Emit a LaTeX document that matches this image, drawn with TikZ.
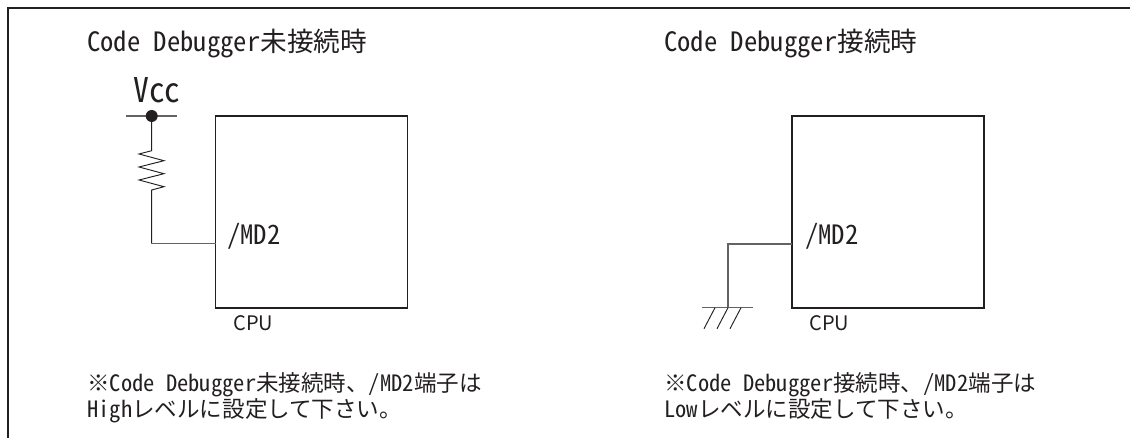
\documentclass[tikz,border=0pt]{standalone}
\usepackage{fontspec}
\setmainfont{Noto Sans CJK JP}[RawFeature={+hwid}]
\newfontfamily\plainjp{Noto Sans CJK JP}
\definecolor{ink}{HTML}{231F20}
\tikzset{
  x=0.75pt,y=-0.75pt,
  frameline/.style={draw=ink,line width=1.3pt},
  boxline/.style={draw=ink,line width=1.4pt,outer sep=0pt,inner sep=0pt,anchor=north west,minimum width=144pt,minimum height=144pt},
  wire/.style={draw=ink!70,line width=0.9pt},
  thinwire/.style={draw=ink,line width=0.7pt},
  title/.style={anchor=base west,inner sep=0pt,font=\fontsize{20pt}{24pt}\selectfont,text=ink},
  pinlabel/.style={anchor=base west,inner sep=0pt,font=\fontsize{20pt}{24pt}\selectfont,text=ink},
  cpulabel/.style={anchor=base west,inner sep=0pt,font=\fontsize{15pt}{18pt}\plainjp\selectfont,text=ink},
  note/.style={anchor=base west,inner sep=0pt,font=\fontsize{16.9pt}{20pt}\selectfont,text=ink},
  vcclabel/.style={anchor=base west,inner sep=0pt,font=\fontsize{25.5pt}{30pt}\selectfont,text=ink},
}
\begin{document}
\begin{tikzpicture}
\useasboundingbox (0,0) rectangle (1130,438);
\coordinate (frameBL) at (8,438);
\coordinate (frameTL) at (8,8);
\coordinate (frameTR) at (1130,8);
\draw[frameline] (frameBL) -- (frameTL) -- (frameTR);
% left circuit
\node[title] (titleL) at (87,52) {Code Debugger未接続時};
\node[vcclabel] (vcc) at (133,103) {\scalebox{0.93}[1]{Vcc}};
\coordinate (vccA) at (126,116);
\coordinate (vccB) at (177,116);
\draw[wire] (vccA) -- (vccB);
\coordinate (dot) at (151.7,116);
\fill[ink] (dot) circle[radius=6];
\node[boxline,draw] (cpuL) at (215.5,116) {};
\coordinate (pinL) at (215.5,243.7);
\coordinate (cornerL) at (151.7,243.7);
\draw[thinwire] (dot) -- (151.7,150.7) -- (139,154) -- (164,160.7) -- (139,167) -- (164,173.7) -- (139,180) -- (164,186.7) -- (151.7,190) -- (cornerL);
\draw[wire] (cornerL) -- (pinL);
\node[pinlabel] (mdL) at (227,244) {/MD2};
\node[cpulabel] (cpuTextL) at (233,330) {CPU};
\node[note] (noteL1) at (87,391) {※Code Debugger未接続時、/MD2端子は};
\node[note] (noteL2) at (87,417) {Highレベルに設定して下さい。};
% right circuit
\node[title] (titleR) at (664,52) {Code Debugger接続時};
\node[boxline,draw] (cpuR) at (792,116) {};
\coordinate (pinR) at (792,244);
\coordinate (cornerR) at (728,244);
\coordinate (gnd) at (728,307.7);
\draw[wire] (pinR) -- (cornerR) -- (gnd);
\coordinate (gndA) at (702,307.7);
\coordinate (gndB) at (753,307.7);
\draw[wire] (gndA) -- (gndB);
\foreach \x in {715,728,741} \draw[thinwire] (\x,307.7) -- ++(-11,21);
\node[pinlabel] (mdR) at (805,244) {/MD2};
\node[cpulabel] (cpuTextR) at (809,330) {CPU};
\node[note] (noteR1) at (664,391) {※Code Debugger接続時、/MD2端子は};
\node[note] (noteR2) at (664,417) {Lowレベルに設定して下さい。};
\end{tikzpicture}
\end{document}
